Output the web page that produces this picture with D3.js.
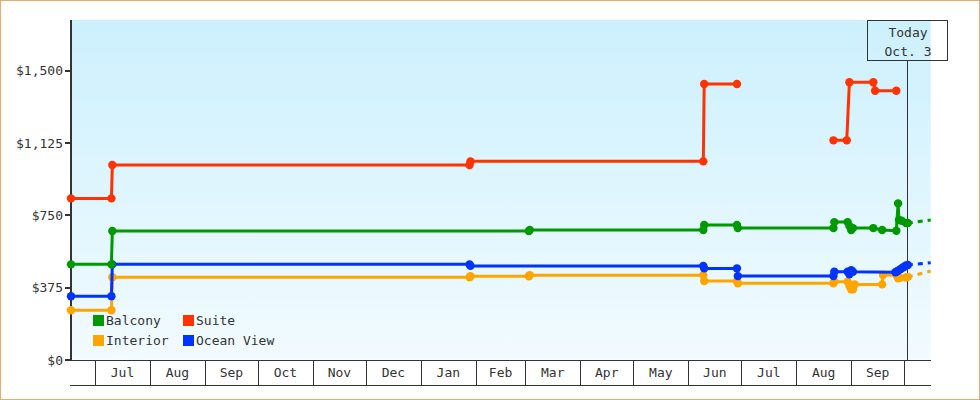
<!DOCTYPE html>
<html><head><meta charset="utf-8">
<script src="https://cdn.jsdelivr.net/npm/d3@7"></script>
<style>
html,body{margin:0;padding:0;background:#fff;}
svg{display:block;}
text{font-family:"DejaVu Sans Mono",monospace;font-size:13px;fill:#333;}
</style></head><body>
<svg id="chart" width="980" height="400"></svg>
<script>
// ---- data ----
const legendOrder = ["Balcony", "Suite", "Interior", "Ocean View"];
const drawOrder = ["Interior", "Ocean View", "Balcony", "Suite"];
const colors = {"Balcony": "#009900", "Suite": "#ff3300", "Interior": "#ffa500", "Ocean View": "#0033ff"};
const yTicks = [0, 375, 750, 1125, 1500];
const todayDate = "2019-10-03 00";
const todayLabel = ["Today", "Oct. 3"];
const domainDates = ["2018-06-17 10", "2019-10-15 22"];

const balcony = [
  ["2018-06-17 10", 496], ["2018-07-10 06", 496], ["2018-07-10 18", 669],
  ["2019-03-03 00", 669], ["2019-03-03 12", 674], ["2019-06-09 12", 674],
  ["2019-06-10 00", 700], ["2019-06-28 12", 700], ["2019-06-29 00", 684],
  ["2019-08-22 00", 684], ["2019-08-22 12", 715], ["2019-08-30 00", 715],
  ["2019-08-31 00", 695], ["2019-09-01 00", 674], ["2019-09-02 00", 684],
  ["2019-09-13 12", 684], ["2019-09-18 12", 674], ["2019-09-26 12", 670],
  ["2019-09-27 12", 812], ["2019-09-28 00", 726], ["2019-09-29 12", 722],
  ["2019-10-02 00", 710], ["2019-10-03 00", 710]
];
const suite = [
  ["2018-06-17 10", 838], ["2018-07-10 06", 838], ["2018-07-10 18", 1011],
  ["2019-01-28 12", 1011], ["2019-01-29 00", 1030], ["2019-06-09 12", 1030],
  ["2019-06-10 00", 1431], ["2019-06-28 12", 1431], ["2019-07-20 00", null],
  ["2019-08-22 00", 1139], ["2019-08-29 12", 1139], ["2019-08-31 00", 1440],
  ["2019-09-13 12", 1440], ["2019-09-14 12", 1396], ["2019-09-26 12", 1396]
];
const interior = [
  ["2018-06-17 10", 258], ["2018-07-10 06", 258], ["2018-07-10 18", 429],
  ["2019-01-28 12", 429], ["2019-01-29 00", 434], ["2019-03-03 00", 434],
  ["2019-03-03 12", 440], ["2019-06-09 12", 440], ["2019-06-10 00", 410],
  ["2019-06-28 12", 410], ["2019-06-29 00", 398], ["2019-08-22 00", 398],
  ["2019-08-22 12", 406], ["2019-08-30 00", 406], ["2019-08-31 00", 385],
  ["2019-09-01 00", 367], ["2019-09-02 00", 367], ["2019-09-03 00", 392],
  ["2019-09-18 12", 392], ["2019-09-19 00", 441], ["2019-09-26 12", 441],
  ["2019-09-27 12", 424], ["2019-09-28 12", 426], ["2019-10-02 00", 428],
  ["2019-10-03 00", 431]
];
const oceanView = [
  ["2018-06-17 10", 331], ["2018-07-10 06", 331], ["2018-07-10 18", 496],
  ["2019-01-28 12", 496], ["2019-01-29 00", 488], ["2019-06-09 12", 488],
  ["2019-06-10 00", 475], ["2019-06-28 12", 475], ["2019-06-29 00", 435],
  ["2019-08-22 00", 435], ["2019-08-22 12", 458], ["2019-08-30 00", 458],
  ["2019-08-31 00", 445], ["2019-09-01 00", 466], ["2019-09-02 00", 458],
  ["2019-09-26 00", 455], ["2019-09-27 00", 460], ["2019-09-28 00", 466],
  ["2019-09-29 00", 472], ["2019-09-30 00", 478], ["2019-10-01 00", 484],
  ["2019-10-02 00", 490], ["2019-10-03 00", 493]
];
const balconyForecast = [["2019-10-03 00", 710], ["2019-10-15 22", 726]];
const interiorForecast = [["2019-10-03 00", 431], ["2019-10-15 22", 461]];
const oceanViewForecast = [["2019-10-03 00", 493], ["2019-10-15 22", 504]];

const seriesData = {"Balcony": balcony, "Suite": suite, "Interior": interior, "Ocean View": oceanView};
const forecastData = {"Balcony": balconyForecast, "Interior": interiorForecast, "Ocean View": oceanViewForecast};

// ---- chart ----
(function () {
const W = 980, H = 400;
const pLeft = 71, pRight = 930.7, pTop = 20, pBottom = 360, bandBottom = 385;
const parse = d3.timeParse("%Y-%m-%d %H");
const svg = d3.select("#chart");

const x = d3.scaleTime().domain(domainDates.map(parse)).range([pLeft, pRight]);
const y = d3.scaleLinear().domain([0, 1763]).range([pBottom, pTop]);

// outer border
svg.append("rect").attr("x", 0.5).attr("y", 0.5).attr("width", W - 1).attr("height", H - 1)
  .attr("fill", "#fff").attr("stroke", "#e9ab6b");

// plot gradient
const defs = svg.append("defs");
const grad = defs.append("linearGradient").attr("id", "bg").attr("x1", 0).attr("y1", 0).attr("x2", 0).attr("y2", 1);
grad.append("stop").attr("offset", "0%").attr("stop-color", "#ccf0fd");
grad.append("stop").attr("offset", "100%").attr("stop-color", "#f2fbff");
svg.append("rect").attr("x", pLeft).attr("y", pTop).attr("width", pRight - pLeft).attr("height", pBottom - pTop)
  .attr("fill", "url(#bg)");

// bottom month bands
const months = d3.timeMonths(x.domain()[0], x.domain()[1]);
const band = svg.append("g").attr("shape-rendering", "crispEdges");
band.append("line").attr("x1", pLeft).attr("x2", pRight).attr("y1", pBottom + 0.5).attr("y2", pBottom + 0.5).attr("stroke", "#333");
band.append("line").attr("x1", pLeft - 1).attr("x2", pRight).attr("y1", bandBottom + 0.5).attr("y2", bandBottom + 0.5).attr("stroke", "#333");
band.selectAll("line.mb").data(months).join("line").attr("class", "mb")
  .attr("x1", d => Math.round(x(d)) + 0.5).attr("x2", d => Math.round(x(d)) + 0.5)
  .attr("y1", pBottom).attr("y2", bandBottom).attr("stroke", "#333");
const fmtMonth = d3.timeFormat("%b");
svg.append("g").selectAll("text").data(months.slice(0, -1)).join("text")
  .attr("x", (d, i) => (x(d) + x(months[i + 1])) / 2)
  .attr("y", 372.5).attr("dy", "0.35em").attr("text-anchor", "middle")
  .text(d => fmtMonth(d));

// y axis
const yAxis = svg.append("g").attr("shape-rendering", "crispEdges");
yAxis.append("line").attr("x1", pLeft).attr("x2", pLeft).attr("y1", pTop).attr("y2", pBottom + 1)
  .attr("stroke", "#333").attr("stroke-width", 2);
yAxis.selectAll("line.tk").data(yTicks).join("line").attr("class", "tk")
  .attr("x1", pLeft - 6).attr("x2", pLeft).attr("y1", d => y(d)).attr("y2", d => y(d))
  .attr("stroke", "#333").attr("stroke-width", 2);
const fmtY = d3.format("$,");
yAxis.selectAll("text").data(yTicks).join("text")
  .attr("x", pLeft - 8).attr("y", d => y(d)).attr("dy", "0.35em").attr("text-anchor", "end")
  .text(d => fmtY(d));

// today marker
const tx = Math.round(x(parse(todayDate))) - 0.5;
svg.append("line").attr("x1", tx).attr("x2", tx).attr("y1", 60).attr("y2", pBottom)
  .attr("stroke", "#333").attr("shape-rendering", "crispEdges");
svg.append("rect").attr("x", tx - 40).attr("y", pTop + 0.5).attr("width", 80).attr("height", 40)
  .attr("fill", "none").attr("stroke", "#333").attr("shape-rendering", "crispEdges");
svg.append("g").selectAll("text").data(todayLabel).join("text")
  .attr("x", tx + 0.5).attr("y", (d, i) => 37 + i * 19).attr("text-anchor", "middle").text(d => d);

// lines
const line = d3.line().defined(d => d[1] != null).x(d => x(parse(d[0]))).y(d => y(d[1]));
const gLines = svg.append("g");
drawOrder.forEach(name => {
  const data = seriesData[name];
  const g = gLines.append("g");
  if (forecastData[name]) {
    g.append("path").attr("d", line(forecastData[name])).attr("fill", "none")
      .attr("stroke", colors[name]).attr("stroke-width", 3).attr("stroke-dasharray", "5,5");
  }
  g.append("path").attr("d", line(data)).attr("fill", "none")
    .attr("stroke", colors[name]).attr("stroke-width", 3).attr("stroke-linejoin", "round");
  g.selectAll("circle").data(data.filter(d => d[1] != null)).join("circle")
    .attr("cx", d => x(parse(d[0]))).attr("cy", d => y(d[1])).attr("r", 4.2)
    .attr("fill", colors[name]);
});

// legend
const legend = svg.append("g");
legendOrder.forEach((name, i) => {
  const lx = i % 2 === 0 ? 93 : 183;
  const ly = i < 2 ? 315 : 335;
  legend.append("rect").attr("x", lx).attr("y", ly).attr("width", 11).attr("height", 11)
    .attr("fill", colors[name]).attr("shape-rendering", "crispEdges");
  legend.append("text").attr("x", lx + 13).attr("y", ly + 5.5).attr("dy", "0.35em").text(name);
});
})();
</script>
</body></html>
